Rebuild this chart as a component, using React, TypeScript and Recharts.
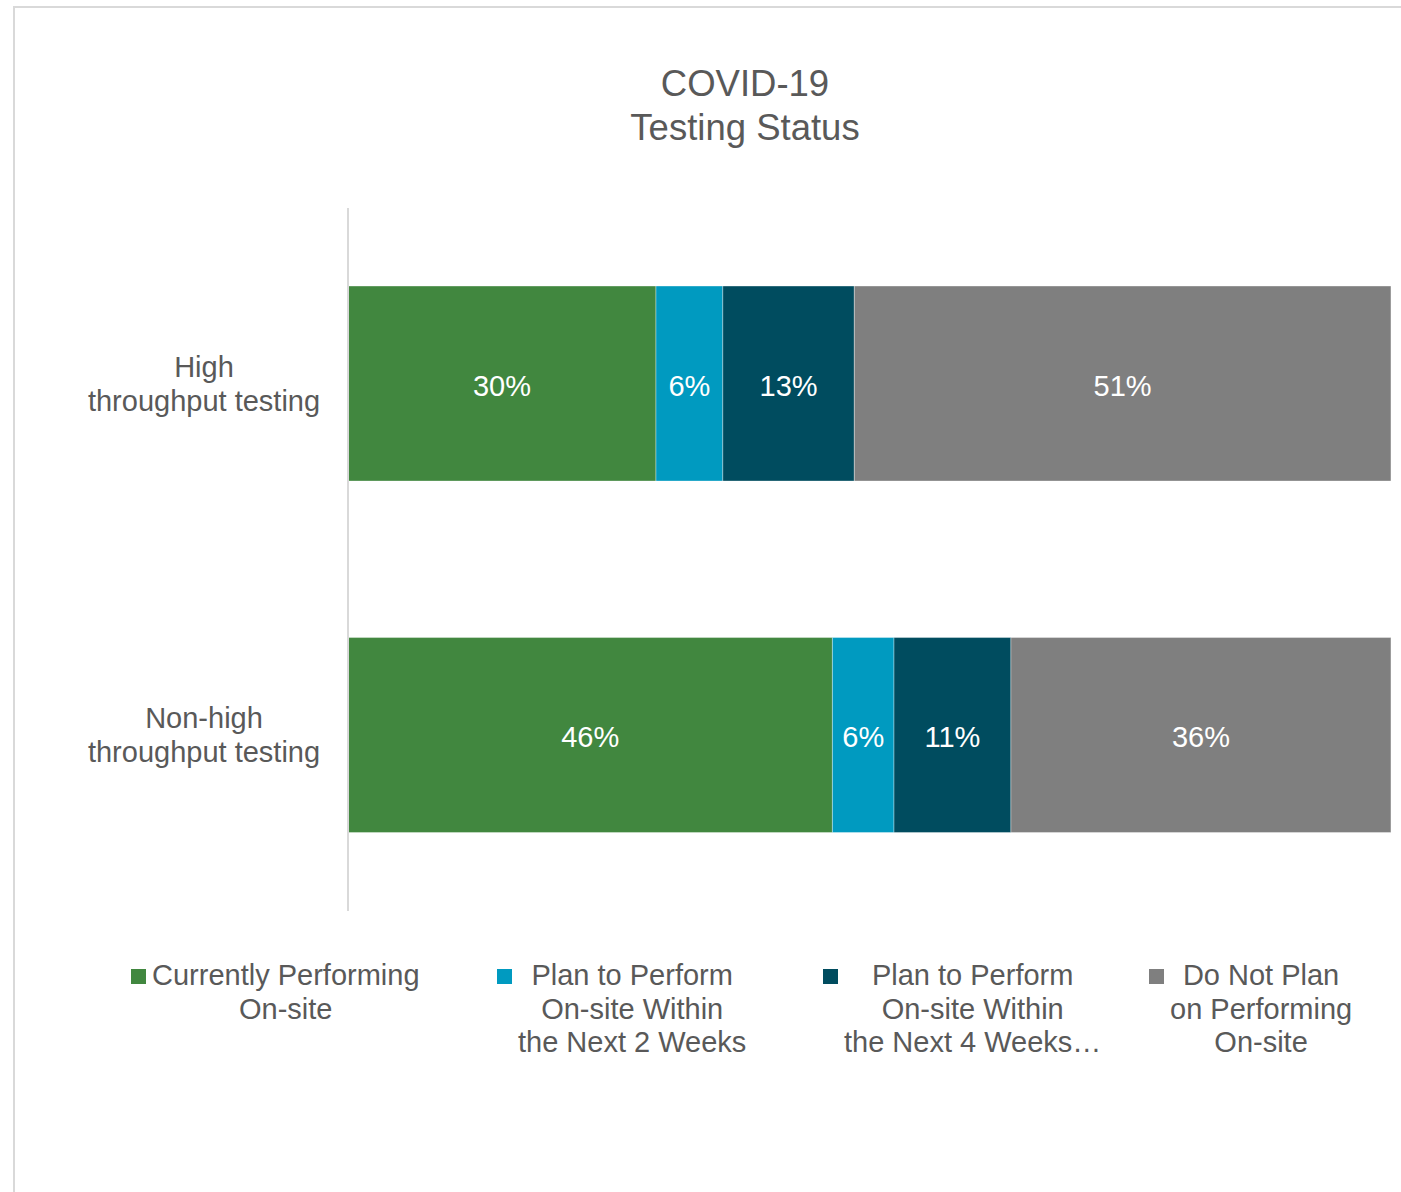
import React from "react";
import { BarChart, Bar, XAxis, YAxis, LabelList, Legend } from "recharts";

const categories = ["High throughput testing", "Non-high throughput testing"];

const seriesKeys = ["current", "twoWeeks", "fourWeeks", "noPlan"];
const seriesNames = [
  "Currently Performing On-site",
  "Plan to Perform On-site Within the Next 2 Weeks",
  "Plan to Perform On-site Within the Next 4 Weeks",
  "Do Not Plan on Performing On-site",
];
// legend text as it wraps in the picture
const legendLines = [
  ["Currently Performing", "On-site"],
  ["Plan to Perform", "On-site Within", "the Next 2 Weeks"],
  ["Plan to Perform", "On-site Within", "the Next 4 Weeks…"],
  ["Do Not Plan", "on Performing", "On-site"],
];
const seriesColors = ["#41873f", "#009ac0", "#004c5f", "#7f7f7f"];

// percent values per category (bar widths)
const currentValues = [29.5, 46.4];
const twoWeeksValues = [6.4, 5.9];
const fourWeeksValues = [12.6, 11.2];
const noPlanValues = [51.4, 36.4];

const TEXT = "#595959";
const FONT = "'Liberation Sans', Arial, sans-serif";
const LEGEND_ITEM_WIDTHS = [366, 326, 326, 326];

const data = categories.map((name, i) => ({
  name,
  current: currentValues[i],
  twoWeeks: twoWeeksValues[i],
  fourWeeks: fourWeeksValues[i],
  noPlan: noPlanValues[i],
}));

function CategoryTick(props: any) {
  const { x, y, payload } = props;
  const text: string = payload.value;
  const cut = text.indexOf(" ");
  const lines = [text.slice(0, cut), text.slice(cut + 1)];
  const cx = x - 136;
  return (
    <text x={cx} y={y} textAnchor="middle" fill={TEXT} fontSize={29} fontFamily={FONT}>
      {lines.map((l, i) => (
        <tspan key={i} x={cx} dy={i === 0 ? -7 : 34}>
          {l}
        </tspan>
      ))}
    </text>
  );
}

function LegendContent() {
  return (
    <div
      style={{
        display: "flex",
        paddingLeft: 131,
        paddingTop: 48,
        height: 130,
        boxSizing: "border-box",
        fontFamily: FONT,
        fontSize: 29,
        color: TEXT,
        lineHeight: "33.5px",
      }}
    >
      {legendLines.map((lines, i) => (
        <div
          key={seriesKeys[i]}
          style={{
            width: LEGEND_ITEM_WIDTHS[i],
            flex: "none",
            display: "flex",
            alignItems: "flex-start",
          }}
        >
          <div
            style={{
              width: 15,
              height: 15,
              background: seriesColors[i],
              marginTop: 10,
              marginRight: 6,
              flex: "none",
            }}
          />
          <div style={{ textAlign: "center", whiteSpace: "nowrap" }}>
            {lines.map((l, j) => (
              <div key={j}>{l}</div>
            ))}
          </div>
        </div>
      ))}
    </div>
  );
}

export default function App() {
  return (
    <div
      style={{
        position: "absolute",
        left: 0,
        top: 0,
        width: 1401,
        height: 1192,
        overflow: "hidden",
        background: "#fff",
      }}
    >
      <div
        style={{
          position: "absolute",
          left: 13,
          top: 6,
          width: 1500,
          height: 1300,
          border: "2px solid #d9d9d9",
          boxSizing: "border-box",
        }}
      />
      <div
        style={{
          position: "absolute",
          left: 0,
          width: 1490,
          top: 62,
          textAlign: "center",
          fontFamily: FONT,
          fontSize: 36.5,
          lineHeight: "44px",
          color: TEXT,
        }}
      >
        COVID-19
        <br />
        Testing Status
      </div>
      <div style={{ position: "absolute", left: 0, top: 0 }}>
        <BarChart
          width={1401}
          height={1192}
          data={data}
          layout="vertical"
          margin={{ top: 208, right: 9, bottom: 151, left: 14 }}
          barCategoryGap="22.2%"
        >
          <XAxis type="number" domain={[0, 100]} hide />
          <YAxis
            type="category"
            dataKey="name"
            width={334}
            tick={<CategoryTick />}
            tickLine={false}
            axisLine={{ stroke: "#d9d9d9", strokeWidth: 2 }}
          />
          <Legend
            verticalAlign="bottom"
            align="left"
            content={<LegendContent />}
            wrapperStyle={{ left: 0, width: 1401, height: 130 }}
          />
          {seriesKeys.map((key, i) => (
            <Bar
              key={key}
              dataKey={key}
              name={seriesNames[i]}
              stackId="a"
              fill={seriesColors[i]}
              stroke="rgba(255,255,255,0.35)"
              strokeWidth={1}
              isAnimationActive={false}
            >
              <LabelList
                dataKey={key}
                position="center"
                formatter={(v: any) => `${Math.round(Number(v))}%`}
                fill="#ffffff"
                fontSize={29}
                fontFamily={FONT}
                dy={2}
              />
            </Bar>
          ))}
        </BarChart>
      </div>
    </div>
  );
}
